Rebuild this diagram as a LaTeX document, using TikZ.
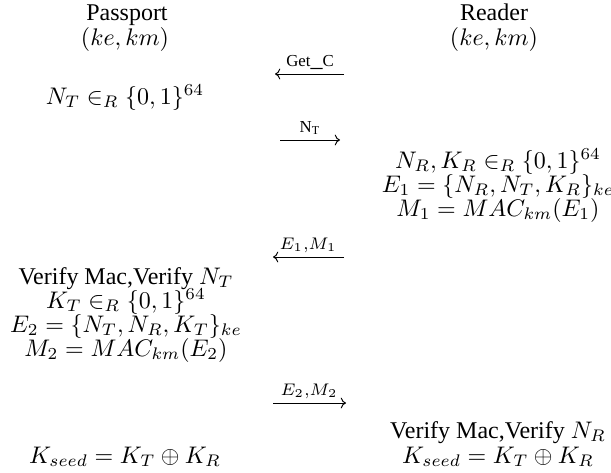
\documentclass[tikz,border=0pt]{standalone}
\usepackage{fontspec}
\setmainfont{Liberation Serif}
\usetikzlibrary{arrows.meta}
\tikzset{
  txt/.style={anchor=base, inner sep=0pt, font=\fontsize{10}{12}\selectfont},
  lbl/.style={anchor=base, inner sep=0pt, font=\fontsize{10}{12}\selectfont},
  msg/.style={line width=0.4pt, -{To[length=2.2pt,width=4.5pt]}},
}
\begin{document}
\begin{tikzpicture}[x=0.4167pt, y=-0.4167pt]
\useasboundingbox (0,0) rectangle (611,472);
% headers
\node[txt] (pp) at (127,20) {Passport};
\node[txt] (pk) at (125,45) {$(ke,km)$};
\node[txt] (rd) at (494,20) {Reader};
\node[txt] (rk) at (494,45) {$(ke,km)$};
% message 1
\coordinate (g1) at (344,74);
\coordinate (g2) at (275,74);
\draw[msg] (g1) -- (g2);
\node[lbl] (gl) at (310,66) {$\scriptstyle\mathrm{Get\_C}$};
% passport nonce
\node[txt] (nt) at (125,104) {$N_T \in_R \{0,1\}^{64}$};
% message 2
\coordinate (n1) at (280,140);
\coordinate (n2) at (340,140);
\draw[msg] (n1) -- (n2);
\node[lbl] (nl) at (310,132) {$\scriptstyle\mathrm{N_T}$};
% reader block
\node[txt] (r1) at (498,168) {$N_R, K_R \in_R \{0,1\}^{64}$};
\node[txt] (r2) at (498,192) {$E_1 = \{N_R, N_T, K_R\}_{ke}$};
\node[txt] (r3) at (498,216) {$M_1 = MAC_{km}(E_1)$};
% message 3
\coordinate (e1) at (344,257);
\coordinate (e2) at (273,257);
\draw[msg] (e1) -- (e2);
\node[lbl] (el) at (308,249) {$\scriptstyle E_1,M_1$};
% passport block
\node[txt] (p1) at (126,284) {Verify Mac,Verify $N_T$};
\node[txt] (p2) at (126,308) {$K_T \in_R \{0,1\}^{64}$};
\node[txt] (p3) at (126,332) {$E_2 = \{N_T, N_R, K_T\}_{ke}$};
\node[txt] (p4) at (126,356) {$M_2 = MAC_{km}(E_2)$};
% message 4
\coordinate (f1) at (273,403);
\coordinate (f2) at (346,403);
\draw[msg] (f1) -- (f2);
\node[lbl] (fl) at (309,395) {$\scriptstyle E_2,M_2$};
% final
\node[txt] (r4) at (498,438) {Verify Mac,Verify $N_R$};
\node[txt] (r5) at (498,463) {$K_{seed} = K_T \oplus K_R$};
\node[txt] (p5) at (125,463) {$K_{seed} = K_T \oplus K_R$};
\end{tikzpicture}
\end{document}
